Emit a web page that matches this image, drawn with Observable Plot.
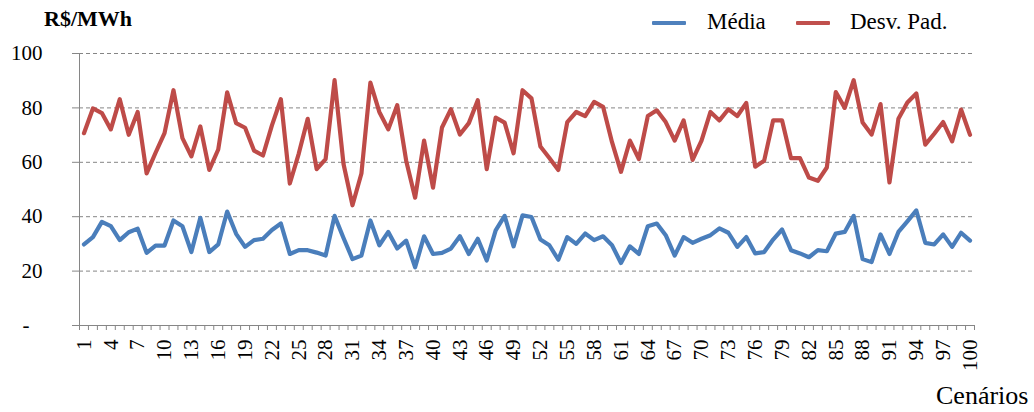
<!DOCTYPE html>
<html>
<head>
<meta charset="utf-8">
<script src="https://cdn.jsdelivr.net/npm/d3@7"></script>
<script src="https://cdn.jsdelivr.net/npm/@observablehq/plot@0.6"></script>
<style>
  html, body { margin: 0; padding: 0; background: #fff; }
  body { font-family: 'Liberation Serif', serif; }
  #wrap { position: relative; width: 1034px; height: 412px; color: #000; }
  #chart { position: absolute; left: 0; top: 0; }
  .ov { position: absolute; font-family: 'Liberation Serif', serif; white-space: nowrap; }
  .sw { position: absolute; height: 4px; width: 34px; border-radius: 1px; }
  #chart svg, #chart svg text { font-family: 'Liberation Serif', serif !important; }
</style>
</head>
<body>
<div id="wrap">
  <div id="chart"></div>
  <div class="ov" style="left:44px; top:8px; font-size:22px; line-height:22px; font-weight:bold;">R$/MWh</div>
  <div class="sw" style="left:652px; top:21px; background:#4F81BD;"></div>
  <div class="ov" style="left:707px; top:10px; font-size:23px; line-height:23px;">Média</div>
  <div class="sw" style="left:796px; top:21px; background:#C0504D;"></div>
  <div class="ov" style="left:850px; top:10px; font-size:23px; line-height:23px;">Desv. Pad.</div>
  <div class="ov" style="left:936px; top:383px; font-size:26px; line-height:26px;">Cenários</div>
</div>
<script>
const cenarios = d3.range(1, 101);
const media = [
  29.8, 32.5, 38.1, 36.5, 31.4, 34.3, 35.6, 26.7, 29.4, 29.4,
  38.6, 36.5, 27.0, 39.6, 27.0, 29.8, 41.9, 33.7, 28.9, 31.4,
  31.9, 35.1, 37.5, 26.3, 27.7, 27.7, 26.8, 25.7, 40.3, 32.2,
  24.4, 25.7, 38.6, 29.5, 34.4, 28.3, 31.2, 21.4, 32.8, 26.3,
  26.7, 28.3, 32.8, 26.3, 31.9, 23.9, 35.0, 40.3, 29.1, 40.5,
  39.9, 31.6, 29.5, 24.2, 32.5, 30.0, 33.8, 31.4, 32.8, 29.5,
  23.0, 29.1, 26.3, 36.5, 37.5, 33.2, 25.7, 32.5, 30.4, 31.9,
  33.2, 35.7, 34.1, 28.9, 32.5, 26.5, 27.0, 31.6, 35.3, 27.7,
  26.5, 25.1, 27.7, 27.3, 33.8, 34.4, 40.3, 24.4, 23.3, 33.5,
  26.3, 34.4, 38.3, 42.3, 30.4, 29.8, 33.5, 28.9, 34.1, 31.2
];
const desvPad = [
  70.7, 79.8, 78.1, 72.1, 83.2, 70.1, 78.5, 55.9, 63.5, 70.7,
  86.5, 68.9, 62.2, 73.2, 57.2, 64.7, 85.7, 74.4, 72.7, 64.3,
  62.5, 73.6, 83.2, 52.2, 63.2, 76.0, 57.5, 61.2, 90.2, 59.4,
  44.2, 55.9, 89.3, 78.5, 72.1, 81.0, 60.6, 47.0, 68.0, 50.7,
  72.8, 79.5, 70.2, 74.4, 82.8, 57.5, 76.4, 74.6, 63.3, 86.5,
  83.5, 65.8, 61.6, 57.2, 74.8, 78.5, 77.0, 82.2, 80.4, 67.4,
  56.5, 68.0, 61.2, 77.0, 79.1, 74.8, 68.0, 75.4, 60.9, 68.0,
  78.5, 75.4, 79.5, 77.0, 81.8, 58.4, 60.6, 75.4, 75.4, 61.5,
  61.5, 54.4, 53.2, 58.1, 85.8, 80.0, 90.2, 74.6, 70.2, 81.4,
  52.6, 76.0, 82.0, 85.3, 66.5, 70.5, 74.8, 67.7, 79.4, 70.1
];
const xTickLabels = d3.range(1, 101, 3);
const yTicks = [0, 20, 40, 60, 80, 100];
const gridValues = [20, 40, 60, 80, 100];
const boundaries = d3.range(0.5, 101, 1);

const rowsMedia = cenarios.map((c, i) => ({c, v: media[i]}));
const rowsDesv = cenarios.map((c, i) => ({c, v: desvPad[i]}));

const chart = Plot.plot({
  width: 1034,
  height: 412,
  marginLeft: 79,
  marginRight: 60,
  marginTop: 53,
  marginBottom: 87,
  style: {fontFamily: "'Liberation Serif', serif", fontSize: "21px", color: "#000", background: "transparent"},
  x: {domain: [0.5, 100.5]},
  y: {domain: [0, 100]},
  marks: [
    Plot.ruleY(gridValues, {stroke: "#858585", strokeDasharray: "4,3", strokeWidth: 1}),
    Plot.axisY({ticks: yTicks, tickSize: 7, tickPadding: 30, tickFormat: d => d === 0 ? "" : String(d), stroke: "#868686", fontSize: 21, label: null}),
    Plot.text([0], {y: d => d, text: () => "-", frameAnchor: "left", textAnchor: "end", dx: -50, fontSize: 21}),
    Plot.axisX({ticks: boundaries, tickSize: 5, tickFormat: () => "", stroke: "#868686", label: null}),
    Plot.ruleX([0.5], {stroke: "#868686"}),
    Plot.ruleY([0], {stroke: "#868686"}),
    Plot.text(xTickLabels, {x: d => d, text: d => String(d), frameAnchor: "bottom", rotate: -90, textAnchor: "end", lineAnchor: "middle", dy: 14, fontSize: 21}),
    Plot.line(rowsMedia, {x: "c", y: "v", stroke: "#4A7EBB", strokeWidth: 4.2, strokeLinejoin: "round", strokeLinecap: "round"}),
    Plot.line(rowsDesv, {x: "c", y: "v", stroke: "#BE4B48", strokeWidth: 4.2, strokeLinejoin: "round", strokeLinecap: "round"})
  ]
});
document.getElementById("chart").appendChild(chart);
</script>
</body>
</html>
